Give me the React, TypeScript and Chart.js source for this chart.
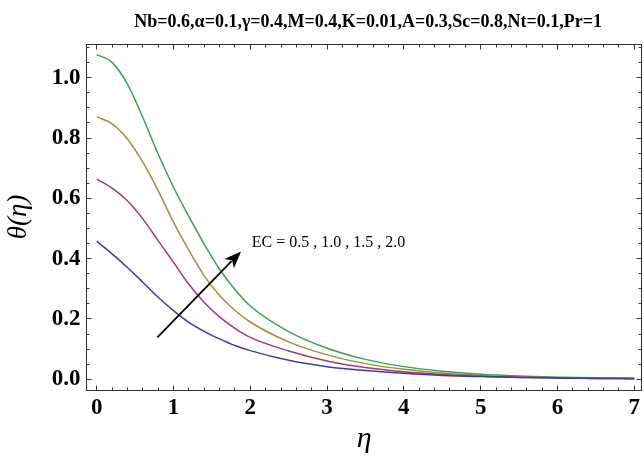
import { useEffect, useRef } from "react";
import { Chart, registerables } from "chart.js";

Chart.register(...registerables);

// ---- data ----
const eta = [0, 0.2, 0.4, 0.6, 0.8, 1.0, 1.2, 1.4, 1.6, 1.8, 2.0, 2.5, 3, 3.5, 4, 4.5, 5, 5.5, 6, 6.5, 7];
const thetaEc05 = [0.458, 0.416, 0.371, 0.322, 0.272, 0.228, 0.189, 0.159, 0.134, 0.112, 0.095, 0.063, 0.042, 0.029, 0.02, 0.013, 0.009, 0.006, 0.004, 0.003, 0.002];
const thetaEc10 = [0.664, 0.634, 0.592, 0.532, 0.46, 0.388, 0.315, 0.255, 0.207, 0.169, 0.139, 0.094, 0.061, 0.039, 0.025, 0.016, 0.01, 0.007, 0.005, 0.003, 0.002];
const thetaEc15 = [0.871, 0.847, 0.797, 0.72, 0.626, 0.521, 0.428, 0.343, 0.278, 0.229, 0.19, 0.124, 0.081, 0.052, 0.033, 0.021, 0.013, 0.008, 0.005, 0.004, 0.003];
const thetaEc20 = [1.077, 1.051, 0.979, 0.869, 0.747, 0.637, 0.54, 0.448, 0.365, 0.298, 0.243, 0.158, 0.103, 0.066, 0.042, 0.027, 0.017, 0.011, 0.007, 0.005, 0.004];
const ecValues = ["0.5", "1.0", "1.5", "2.0"];
const xTickValues = [0, 1, 2, 3, 4, 5, 6, 7];
const yTickValues = [0, 0.2, 0.4, 0.6, 0.8, 1.0];
const xMinorStep = 0.2;
const yMinorStep = 0.05;
const titleText = "Nb=0.6,\u03b1=0.1,\u03b3=0.4,M=0.4,K=0.01,A=0.3,Sc=0.8,Nt=0.1,Pr=1";
const annotationText = "EC = 0.5 , 1.0 , 1.5 , 2.0";
const xTitle = "\u03b7";
const yTitle = "\u03b8(\u03b7)";

// annotation anchors (data coordinates)
const arrowTail = { x: 0.79, y: 0.139 };
const arrowTip = { x: 1.88, y: 0.424 };
const annotationAnchor = { x: 2.02, y: 0.44 };

const colors = ["#3d3ba3", "#a03b76", "#a08f3b", "#3ba05a"];
const series = [thetaEc05, thetaEc10, thetaEc15, thetaEc20];

const SERIF = "'Liberation Serif', 'Times New Roman', serif";

const decorPlugin = {
  id: "decor",
  afterDatasetsDraw(chart: any) {
    const { ctx, chartArea: a, scales } = chart;
    const xs = scales.x;
    const ys = scales.y;
    const crisp = (v: number) => Math.floor(v) + 0.5;
    const L = crisp(a.left), R = crisp(a.right), T = crisp(a.top), B = crisp(a.bottom);
    ctx.save();
    ctx.strokeStyle = "#333";
    ctx.lineWidth = 1;
    ctx.strokeRect(L, T, R - L, B - T);
    const major = 5, minor = 3;
    ctx.beginPath();
    const xMax = xs.max, yMax = ys.max;
    for (let i = 0; i * xMinorStep <= xMax + 1e-9; i++) {
      const v = i * xMinorStep;
      const isMajor = i % 5 === 0;
      const len = isMajor ? major : minor;
      const px = crisp(xs.getPixelForValue(v));
      ctx.moveTo(px, B); ctx.lineTo(px, B - len);
      ctx.moveTo(px, T); ctx.lineTo(px, T + len);
    }
    for (let i = 0; i * yMinorStep <= yMax + 1e-9; i++) {
      const v = i * yMinorStep;
      const isMajor = i % 4 === 0;
      const len = isMajor ? major : minor;
      const py = crisp(ys.getPixelForValue(v));
      ctx.moveTo(L, py); ctx.lineTo(L + len, py);
      ctx.moveTo(R, py); ctx.lineTo(R - len, py);
    }
    ctx.stroke();

    // arrow
    const tx = xs.getPixelForValue(arrowTail.x), ty = ys.getPixelForValue(arrowTail.y);
    const hx = xs.getPixelForValue(arrowTip.x), hy = ys.getPixelForValue(arrowTip.y);
    const dx = hx - tx, dy = hy - ty;
    const len = Math.hypot(dx, dy);
    const ux = dx / len, uy = dy / len;
    const nx = -uy, ny = ux;
    const HL = 17, HW = 6.5;
    ctx.strokeStyle = "#000";
    ctx.fillStyle = "#000";
    ctx.lineWidth = 1.8;
    ctx.beginPath();
    ctx.moveTo(tx, ty);
    ctx.lineTo(hx - ux * HL * 0.8, hy - uy * HL * 0.8);
    ctx.stroke();
    ctx.beginPath();
    ctx.moveTo(hx, hy);
    ctx.lineTo(hx - ux * HL + nx * HW, hy - uy * HL + ny * HW);
    ctx.lineTo(hx - ux * HL * 0.75, hy - uy * HL * 0.75);
    ctx.lineTo(hx - ux * HL - nx * HW, hy - uy * HL - ny * HW);
    ctx.closePath();
    ctx.fill();

    // annotation text
    ctx.font = `16px ${SERIF}`;
    ctx.textAlign = "left";
    ctx.textBaseline = "alphabetic";
    ctx.fillText(annotationText, xs.getPixelForValue(annotationAnchor.x), ys.getPixelForValue(annotationAnchor.y));

    // title
    ctx.font = `bold 18px ${SERIF}`;
    ctx.textAlign = "center";
    ctx.fillText(titleText, (a.left + a.right) / 2 + 4, 26.5);

    // x title
    ctx.font = `italic 30px ${SERIF}`;
    ctx.fillText(xTitle, (a.left + a.right) / 2, 447);

    // y title
    ctx.save();
    ctx.translate(19, (a.top + a.bottom) / 2);
    ctx.rotate(-Math.PI / 2);
    ctx.font = `italic 27px ${SERIF}`;
    ctx.textBaseline = "middle";
    ctx.textAlign = "center";
    ctx.fillText(yTitle, 0, 0);
    ctx.restore();

    ctx.restore();
  },
};

export default function App() {
  const ref = useRef<HTMLCanvasElement | null>(null);
  useEffect(() => {
    if (!ref.current) return;
    const chart = new Chart(ref.current, {
      type: "line",
      data: {
        datasets: series.map((vals, i) => ({
          label: "EC = " + ecValues[i],
          data: eta.map((e, j) => ({ x: e, y: vals[j] })),
          borderColor: colors[i],
          backgroundColor: colors[i],
          borderWidth: 1.5,
          pointRadius: 0,
          fill: false,
          cubicInterpolationMode: "monotone" as const,
        })),
      },
      options: {
        animation: false,
        responsive: false,
        devicePixelRatio: 1,
        layout: { padding: { top: 44, right: 1, left: 0, bottom: 0 } },
        plugins: { legend: { display: false }, title: { display: false }, tooltip: { enabled: false } },
        scales: {
          x: {
            type: "linear",
            min: -0.133,
            max: 7.1,
            afterFit: (s: any) => { s.height = 68; },
            afterBuildTicks: (s: any) => { s.ticks = xTickValues.map((v) => ({ value: v })); },
            ticks: {
              color: "#000",
              font: { family: SERIF, size: 23, weight: "bold" },
              padding: 4,
              maxRotation: 0,
              autoSkip: false,
              callback: (v: any) => String(v),
            },
            grid: { display: false, drawTicks: false },
            border: { display: false },
          },
          y: {
            type: "linear",
            min: -0.0355,
            max: 1.112,
            afterFit: (s: any) => { s.width = 86.5; },
            afterBuildTicks: (s: any) => { s.ticks = yTickValues.map((v) => ({ value: v })); },
            ticks: {
              color: "#000",
              font: { family: SERIF, size: 23, weight: "bold" },
              padding: 6,
              autoSkip: false,
              callback: (v: any) => Number(v).toFixed(1),
            },
            grid: { display: false, drawTicks: false },
            border: { display: false },
          },
        },
      },
      plugins: [decorPlugin],
    });
    return () => chart.destroy();
  }, []);
  return (
    <div style={{ position: "absolute", left: 0, top: 0, width: 644, height: 458, background: "#fff" }}>
      <canvas ref={ref} width={644} height={458} style={{ display: "block" }} />
    </div>
  );
}
